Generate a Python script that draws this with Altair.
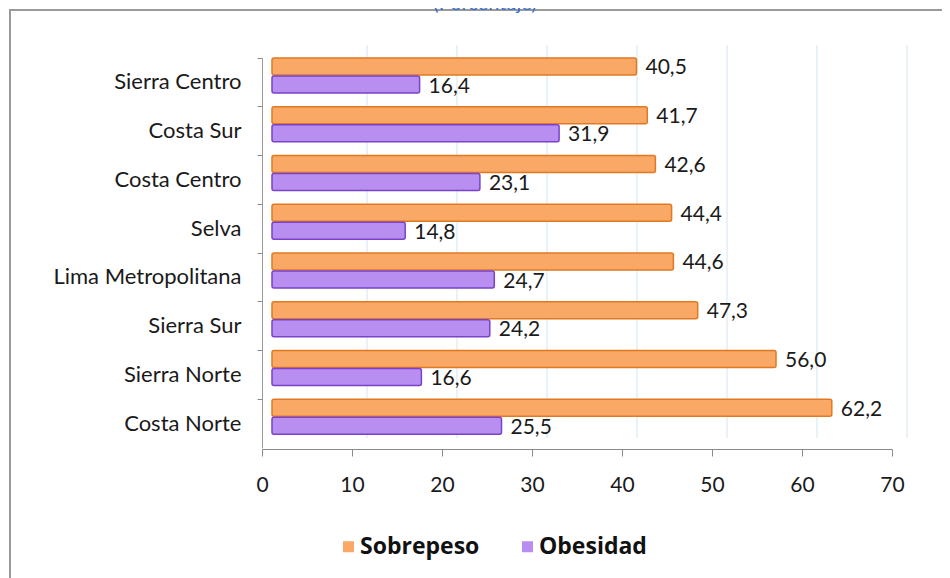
import altair as alt
import pandas as pd

regions = ["Sierra Centro", "Costa Sur", "Costa Centro", "Selva",
           "Lima Metropolitana", "Sierra Sur", "Sierra Norte", "Costa Norte"]
sobrepeso = [40.5, 41.7, 42.6, 44.4, 44.6, 47.3, 56.0, 62.2]
obesidad = [16.4, 31.9, 23.1, 14.8, 24.7, 24.2, 16.6, 25.5]
series = ["Sobrepeso", "Obesidad"]
x_ticks = [0, 10, 20, 30, 40, 50, 60, 70]

rows = []
for r, s, o in zip(regions, sobrepeso, obesidad):
    rows.append({"region": r, "serie": "Sobrepeso", "valor": s,
                 "etiqueta": f"{s:.1f}".replace(".", ",")})
    rows.append({"region": r, "serie": "Obesidad", "valor": o,
                 "etiqueta": f"{o:.1f}".replace(".", ",")})
df = pd.DataFrame(rows)
grid_df = pd.DataFrame({"g": x_ticks[1:]})

FONT = "Lato"
W, H = 630, 390

xscale = alt.Scale(domain=[0, 70], nice=False, zero=True)
yenc = alt.Y("region:N", sort=regions, title=None,
             scale=alt.Scale(paddingInner=0, paddingOuter=0),
             axis=alt.Axis(labelFont=FONT, labelFontSize=22, labelColor="#1a1a1a",
                           labelPadding=16, bandPosition=0, labelLimit=400,
                           ticks=True, tickSize=5, tickColor="#8a8a8a",
                           domain=True, domainColor="#9a9a9a", grid=False))
yoff = alt.YOffset("serie:N", sort=series,
                   scale=alt.Scale(range=[0, 35], paddingInner=0.06, paddingOuter=0))

frame = alt.Chart(pd.DataFrame({"a": [0]})).mark_rect(
    fill=None, stroke="#9a9a9a", strokeWidth=2
).encode(x=alt.value(-252), x2=alt.value(720), y=alt.value(-48), y2=alt.value(600))

title = alt.Chart(pd.DataFrame({"t": ["(Porcentaje)"]})).mark_text(
    font=FONT, fontSize=20, color="#3a6fd0", baseline="bottom", align="center"
).encode(x=alt.value(223), y=alt.value(-44), text="t:N")

grid = alt.Chart(grid_df).mark_rule(color="#d5e5f2", strokeWidth=1, xOffset=15).encode(
    x=alt.X("g:Q", scale=xscale),
    y=alt.value(-13), y2=alt.value(H - 10)
)

bars = alt.Chart(df).mark_bar(xOffset=10, x2Offset=10,
                              strokeWidth=1.5, cornerRadius=2).encode(
    x=alt.X("valor:Q", scale=xscale, title=None,
            axis=alt.Axis(values=x_ticks, labelFont=FONT, labelFontSize=21,
                          labelColor="#1a1a1a", labelPadding=18, tickSize=7,
                          tickColor="#8a8a8a", domainColor="#8a8a8a", offset=1,
                          grid=False, labelFlush=False)),
    x2=alt.datum(0),
    y=yenc,
    yOffset=yoff,
    color=alt.Color("serie:N", sort=series,
                    scale=alt.Scale(domain=series, range=["#f9a865", "#b88ff0"]),
                    legend=alt.Legend(title=None, orient="none", direction="horizontal",
                                      legendX=75, legendY=477, symbolType="square",
                                      symbolSize=121, labelFont="Open Sans", labelFontSize=23,
                                      labelFontWeight="bold", labelColor="#111111",
                                      columnPadding=36, symbolStrokeWidth=0,
                                      labelOffset=0)),
    stroke=alt.Stroke("serie:N", sort=series,
                      scale=alt.Scale(domain=series, range=["#e07a22", "#7a42c8"]),
                      legend=None),
)

labels = alt.Chart(df).mark_text(font=FONT, fontSize=21, color="#1a1a1a",
                                 align="left", baseline="middle", dx=19, dy=2).encode(
    x=alt.X("valor:Q", scale=xscale),
    y=alt.Y("region:N", sort=regions),
    yOffset=yoff,
    text="etiqueta:N",
)

chart = alt.layer(frame, title, grid, bars, labels).properties(
    width=W, height=H,
    autosize=alt.AutoSizeParams(type="none"),
    padding={"left": 254, "top": 50, "right": 50, "bottom": 130},
).configure(background="white").configure_view(stroke=None)

chart.save("out.html", embed_options={"renderer": "svg", "actions": False})
